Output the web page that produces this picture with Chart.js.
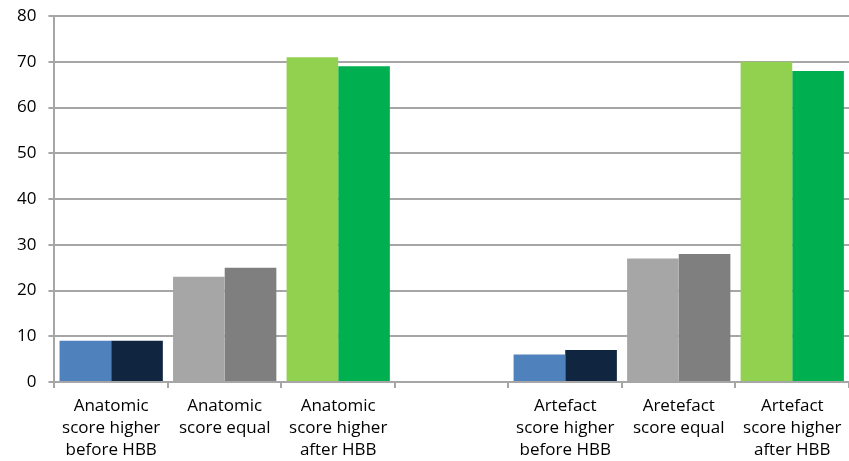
<!DOCTYPE html>
<html>
<head>
<meta charset="utf-8">
<script src="https://cdn.jsdelivr.net/npm/chart.js@4"></script>
<style>
html,body{margin:0;padding:0;background:#fff;}
#wrap{width:849px;height:461px;}
</style>
</head>
<body>
<div id="wrap"><canvas id="c" width="849" height="461"></canvas></div>
<script>
const categories = [
  ["Anatomic", "score higher", "before HBB"],
  ["Anatomic", "score equal"],
  ["Anatomic", "score higher", "after HBB"],
  "",
  ["Artefact", "score higher", "before HBB"],
  ["Aretefact", "score equal"],
  ["Artefact", "score higher", "after HBB"]
];
const seriesA = [9, 23, 71, null, 6, 27, 70];
const seriesB = [9, 25, 69, null, 7, 28, 68];
const yTicks = [0, 10, 20, 30, 40, 50, 60, 70, 80];

const colorsA = ['#4F81BD', '#A6A6A6', '#92D050', '#ffffff', '#4F81BD', '#A6A6A6', '#92D050'];
const colorsB = ['#10253F', '#7F7F7F', '#00B050', '#ffffff', '#10253F', '#7F7F7F', '#00B050'];

const FONT = '"Open Sans", "Liberation Sans", sans-serif';
const GRID = '#A6A6A6';

new Chart(document.getElementById('c'), {
  type: 'bar',
  data: {
    labels: categories,
    datasets: [
      { label: 'A', data: seriesA, backgroundColor: colorsA, borderWidth: 0 },
      { label: 'B', data: seriesB, backgroundColor: colorsB, borderWidth: 0 }
    ]
  },
  options: {
    responsive: false,
    animation: false,
    devicePixelRatio: 1,
    layout: { padding: { left: 5, top: 16, right: 0, bottom: 0 } },
    plugins: { legend: { display: false }, tooltip: { enabled: false } },
    datasets: { bar: { categoryPercentage: 0.91, barPercentage: 1.0 } },
    scales: {
      x: {
        afterFit: (s) => { s.height = 79; },
        grid: { drawOnChartArea: false, offset: true, color: GRID, lineWidth: 2, tickLength: 6 },
        border: { color: GRID, width: 2 },
        ticks: {
          color: '#000', font: { family: FONT, size: 17, lineHeight: 1.3 }, maxRotation: 0, autoSkip: false, padding: 7
        }
      },
      y: {
        min: 0, max: 80,
        afterBuildTicks: (s) => { s.ticks = yTicks.map(v => ({ value: v })); },
        afterFit: (s) => { s.paddingTop = 0; s.paddingBottom = 0; },
        grid: { color: GRID, lineWidth: 2, tickLength: 6 },
        border: { color: GRID, width: 2 },
        ticks: { color: '#000', font: { family: FONT, size: 17 }, padding: 12 }
      }
    }
  }
});
</script>
</body>
</html>
